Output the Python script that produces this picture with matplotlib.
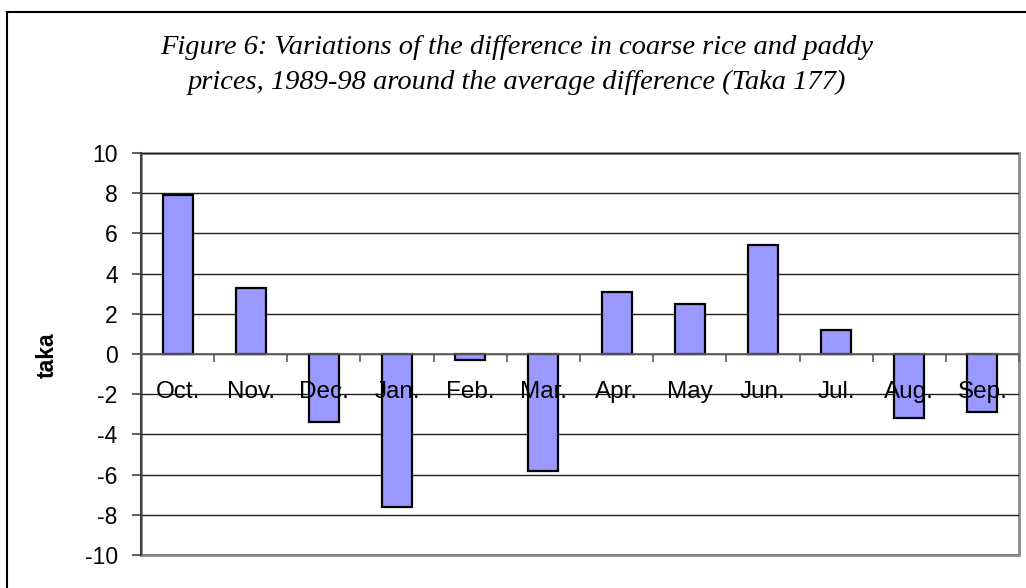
import matplotlib
matplotlib.use("Agg")
import matplotlib.pyplot as plt
from matplotlib.lines import Line2D
from matplotlib.patches import Rectangle
import numpy as np

# data
months = ["Oct.", "Nov.", "Dec.", "Jan.", "Feb.", "Mar.",
          "Apr.", "May", "Jun.", "Jul.", "Aug.", "Sep."]
diff = [7.9, 3.3, -3.4, -7.6, -0.3, -5.8, 3.1, 2.5, 5.4, 1.2, -3.2, -2.9]
yticks = [-10, -8, -6, -4, -2, 0, 2, 4, 6, 8, 10]

title_lines = ["Figure 6: Variations of the difference in coarse rice and paddy",
               "prices, 1989-98 around the average difference (Taka 177)"]

fig = plt.figure(figsize=(10.26, 5.88), dpi=100)
ax = fig.add_axes([141/1026, 33/588, 878/1026, 402/588])

x = np.arange(len(months))
ax.bar(x, diff, width=0.41, color="#9999ff", edgecolor="black",
       linewidth=1.6, zorder=3)

ax.set_xlim(-0.5, len(months) - 0.5)
ax.set_ylim(-10, 10)
ax.set_yticks(yticks)
ax.set_yticklabels([str(v) for v in yticks], fontsize=16.5,
                   family="Liberation Sans")
ax.yaxis.grid(True, color="#202020", linewidth=1.0, zorder=1)
ax.tick_params(axis="y", length=6.3, width=1.2, color="#404040", pad=10.5)

# category axis sits at y=0, ticks between categories
ax.spines["bottom"].set_position(("data", 0))
ax.spines["bottom"].set_color("#606060")
ax.spines["bottom"].set_linewidth(1.2)
ax.spines["bottom"].set_zorder(4)
ax.set_xticks(np.arange(len(months) + 1) - 0.5)
ax.set_xticklabels([])
ax.tick_params(axis="x", length=5.6, width=1.2, color="#606060", direction="out")

ax.spines["left"].set_color("#404040")
ax.spines["left"].set_linewidth(1.5)
for s in ["top", "right"]:
    ax.spines[s].set_visible(False)
ax.add_patch(Rectangle((0, 0), 1, 1, transform=ax.transAxes, fill=False,
                       edgecolor="#888888", linewidth=2.0, zorder=0.5,
                       clip_on=False))

# month labels sit just under the zero line, drawn over the bars
for xi, m in zip(x, months):
    ax.text(xi, -2.2, m, ha="center", va="baseline", fontsize=17.5,
            family="Liberation Sans", zorder=5)

fig.text(47/1026, 1 - 355/588, "taka", rotation=90, ha="center", va="center",
         fontsize=16.5, fontweight="bold", family="Liberation Sans")

for line, base in zip(title_lines, [54, 89]):
    fig.text(517/1026, 1 - base/588, line, ha="center", va="baseline",
             fontsize=20.5, style="italic", family="Liberation Serif")

# outer chart frame (left and top edges visible)
fig.add_artist(Line2D([7/1026, 7/1026], [0, 1 - 12/588], transform=fig.transFigure,
                      color="black", linewidth=1.5))
fig.add_artist(Line2D([7/1026, 1], [1 - 12/588, 1 - 12/588], transform=fig.transFigure,
                      color="black", linewidth=1.5))

fig.savefig("out.png", dpi=100)
